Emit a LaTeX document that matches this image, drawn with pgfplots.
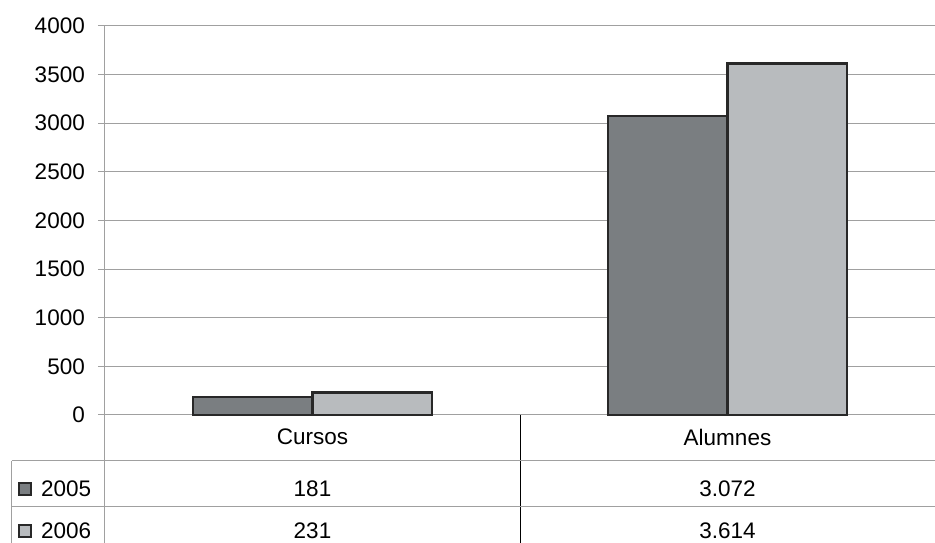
\documentclass[border=0pt]{standalone}
\usepackage{pgfplots}
\pgfplotsset{compat=1.18}
\usepackage{fontspec}
\setmainfont{Liberation Sans}

\definecolor{bardark}{RGB}{122,126,129}
\definecolor{barlight}{RGB}{184,187,190}
\definecolor{gridgray}{RGB}{160,160,160}
\definecolor{edgegray}{RGB}{40,40,40}

\begin{document}
\begin{tikzpicture}[x=1pt,y=1pt,font=\fontsize{22.5}{26}\selectfont]
    \path[use as bounding box] (-105,-128) rectangle (830,415);
    \begin{axis}[
            scale only axis,
            width=830pt, height=389pt,
            ymin=0, ymax=4000,
            ytick={0,500,...,4000},
            xmin=-0.5, xmax=1.5,
            xtick=\empty,
            axis x line*=bottom,
            axis y line*=left,
            axis line style={gridgray, line width=1pt, -},
            ymajorgrids,
            grid style={gridgray, line width=1pt},
            tick align=outside,
            major tick length=7pt,
            tick style={gridgray, line width=1pt},
            yticklabel style={inner sep=0pt, xshift=-13pt},
            /pgf/number format/assume math mode=true,
            /pgf/number format/1000 sep={},
            ybar=0pt,
            bar width=0.287,
            clip=false,
        ]
        \addplot[fill=bardark, draw=edgegray, line width=2.2pt] coordinates {
            (0, 181)
            (1, 3072)
        };
        \addplot[fill=barlight, draw=edgegray, line width=2.2pt] coordinates {
            (0, 231)
            (1, 3614)
        };
    \end{axis}
    % data table below the axis
    \draw[gridgray, line width=1pt] (0,0) -- (0,-128);
    \draw[black, line width=1pt] (415,0) -- (415,-128);
    \draw[gridgray, line width=1pt] (-93,-46) -- (830,-46);
    \draw[gridgray, line width=1pt] (-93,-92) -- (830,-92);
    \draw[gridgray, line width=1pt] (-93,-46) -- (-93,-128);
    \node at (207.5,-22) {Cursos};
    \node at (622.5,-22) {Alumnes};
    \node[draw=edgegray, fill=bardark, line width=1.5pt, minimum size=12pt, inner sep=0pt] at (-80,-74) {};
    \node[anchor=west, inner sep=0pt] at (-64,-74) {2005};
    \node at (207.5,-74) {181};
    \node at (622.5,-74) {3.072};
    \node[draw=edgegray, fill=barlight, line width=1.5pt, minimum size=12pt, inner sep=0pt] at (-80,-116) {};
    \node[anchor=west, inner sep=0pt] at (-64,-116) {2006};
    \node at (207.5,-116) {231};
    \node at (622.5,-116) {3.614};
\end{tikzpicture}
\end{document}
